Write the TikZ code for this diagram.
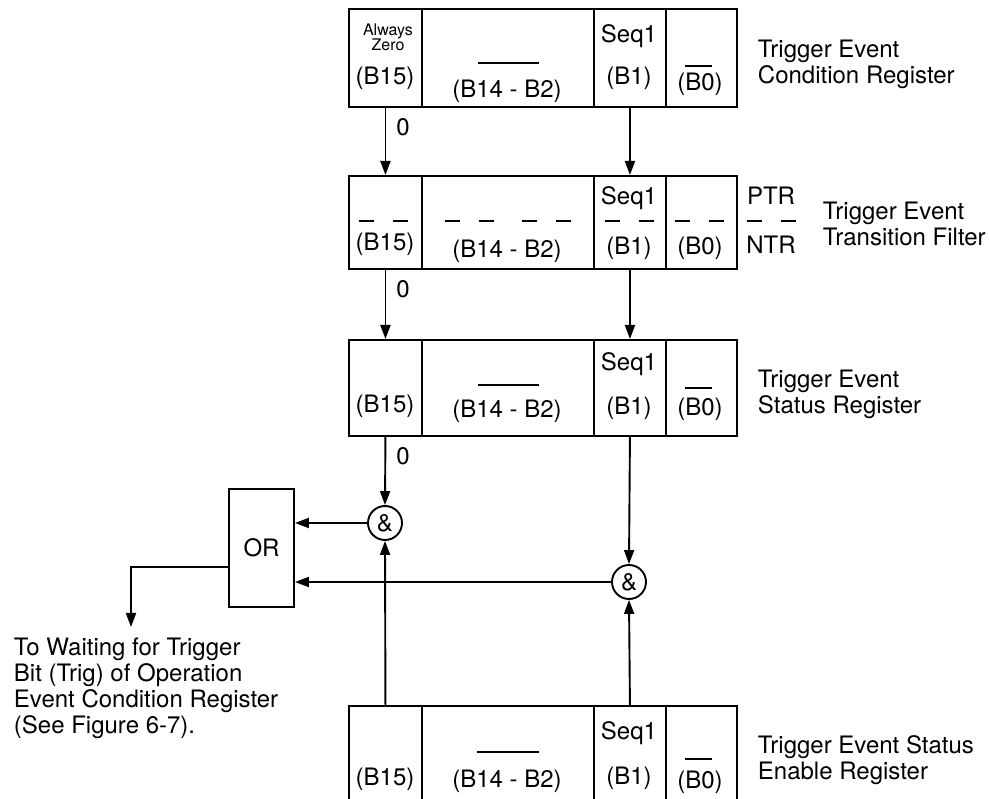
\documentclass[tikz,border=0pt]{standalone}
\usepackage{fontspec}
\setmainfont{TeX Gyre Heros}
\usetikzlibrary{arrows.meta}

\begin{document}
\begin{tikzpicture}[
    x=1pt, y=-1pt,
    line width=1.9pt,
    every node/.style={font=\fontsize{24}{26}\selectfont, inner sep=0pt},
    regcell/.style={draw, rectangle, anchor=north west, inner sep=0pt},
    bitlbl/.style={anchor=base},
    gate/.style={draw, circle, minimum size=34pt, inner sep=0pt},
    orbox/.style={draw, rectangle, minimum width=65pt, minimum height=118pt},
    arr/.style={-{Triangle[length=14pt,width=10pt]}},
    ticks/.style={dash pattern=on 15pt off 19pt},
    zerolbl/.style={pos=0, anchor=north west, xshift=10pt, yshift=-10pt},
    regname/.style={anchor=north west, align=left}
]
    \useasboundingbox (0,0) rectangle (989,799);

    % --- Condition register ---
    \begin{scope}[shift={(0,8)}]
        \node[regcell, minimum width=73pt, minimum height=98pt] (r1b15) at (348,0) {};
        \node[regcell, minimum width=172pt, minimum height=98pt] (r1mid) at (421,0) {};
        \node[regcell, minimum width=72pt, minimum height=98pt] (r1b1) at (593,0) {};
        \node[regcell, minimum width=71pt, minimum height=98pt] (r1b0) at (665,0) {};

        \node[bitlbl, font=\fontsize{16}{16}\selectfont] (r1alw) at (388,27.5) {Always};
        \node[bitlbl, font=\fontsize{16}{16}\selectfont] (r1zer) at (388,42.5) {Zero};
        \node[bitlbl] (r1l15) at (385,76.5) {(B15)};
        \draw (478,55) -- (539,55);
        \node[bitlbl] (r1lmid) at (507,89.5) {(B14 - B2)};
        \node[bitlbl] (r1seq) at (629,34.5) {Seq1};
        \node[bitlbl] (r1l1) at (629,76.5) {(B1)};
        \draw (685,58) -- (712,58);
        \node[bitlbl] (r1l0) at (700,83) {(B0)};

        \node[regname] (r1name) at (757,31) {Trigger Event\\Condition Register};
    \end{scope}

    % --- Transition filter ---
    \begin{scope}[shift={(0,175)}]
        \node[regcell, minimum width=73pt, minimum height=93pt] (r2b15) at (348,0) {};
        \node[regcell, minimum width=172pt, minimum height=93pt] (r2mid) at (421,0) {};
        \node[regcell, minimum width=72pt, minimum height=93pt] (r2b1) at (593,0) {};
        \node[regcell, minimum width=71pt, minimum height=93pt] (r2b0) at (665,0) {};

        \draw[ticks] (359,46) -- (408,46);
        \node[bitlbl] (r2l15) at (385,75.5) {(B15)};
        \draw[ticks] (445,46) -- (494,46);
        \draw[ticks] (522,46) -- (571,46);
        \node[bitlbl] (r2lmid) at (507,82.5) {(B14 - B2)};
        \node[bitlbl] (r2seq) at (629,29.5) {Seq1};
        \draw[ticks] (605,46) -- (654,46);
        \node[bitlbl] (r2l1) at (629,79.5) {(B1)};
        \draw[ticks] (675,46) -- (724,46);
        \node[bitlbl] (r2l0) at (700,79.5) {(B0)};

        \node[bitlbl] (ptr) at (771,29.5) {PTR};
        \draw[ticks] (747,46) -- (797,46);
        \node[bitlbl] (ntr) at (771,78.5) {NTR};

        \node[regname] (r2name) at (822,26) {Trigger Event\\Transition Filter};
    \end{scope}

    % --- Status register ---
    \begin{scope}[shift={(0,339)}]
        \node[regcell, minimum width=73pt, minimum height=96pt] (r3b15) at (348,0) {};
        \node[regcell, minimum width=172pt, minimum height=96pt] (r3mid) at (421,0) {};
        \node[regcell, minimum width=72pt, minimum height=96pt] (r3b1) at (593,0) {};
        \node[regcell, minimum width=71pt, minimum height=96pt] (r3b0) at (665,0) {};

        \node[bitlbl] (r3l15) at (385,73.5) {(B15)};
        \draw (478,46) -- (539,46);
        \node[bitlbl] (r3lmid) at (507,78.5) {(B14 - B2)};
        \node[bitlbl] (r3seq) at (629,31.5) {Seq1};
        \node[bitlbl] (r3l1) at (629,75.5) {(B1)};
        \draw (685,49) -- (712,49);
        \node[bitlbl] (r3l0) at (700,77) {(B0)};

        \node[regname] (r3name) at (757,30) {Trigger Event\\Status Register};
    \end{scope}

    % --- Enable register (runs off the bottom) ---
    \begin{scope}[shift={(0,705)}]
        \node[regcell, minimum width=73pt, minimum height=100pt] (r4b15) at (348,0) {};
        \node[regcell, minimum width=172pt, minimum height=100pt] (r4mid) at (421,0) {};
        \node[regcell, minimum width=72pt, minimum height=100pt] (r4b1) at (593,0) {};
        \node[regcell, minimum width=71pt, minimum height=100pt] (r4b0) at (665,0) {};

        \node[bitlbl] (r4l15) at (385,80.5) {(B15)};
        \draw (477,47) -- (539,47);
        \node[bitlbl] (r4lmid) at (507,82.5) {(B14 - B2)};
        \node[bitlbl] (r4seq) at (629,34.5) {Seq1};
        \node[bitlbl] (r4l1) at (629,79.5) {(B1)};
        \draw (685,54) -- (712,54);
        \node[bitlbl] (r4l0) at (700,83) {(B0)};

        \node[regname] (r4name) at (757,30) {Trigger Event Status\\Enable Register};
    \end{scope}

    % gates
    \node[gate] (and1) at (385,523) {\&};
    \node[gate] (and2) at (629,582) {\&};
    \node[orbox] (or) at (261.5,548) {OR};
    \coordinate (outend) at (131,627);

    % flow down
    \draw[arr] (r1b15.south) -- node[zerolbl] (z1) {0} (r2b15.north);
    \draw[arr] (r1b1.south) -- (r2b1.north);
    \draw[arr] (r2b15.south) -- node[zerolbl] (z2) {0} (r3b15.north);
    \draw[arr] (r2b1.south) -- (r3b1.north);
    \draw[arr] (r3b15.south) -- node[zerolbl] (z3) {0} (and1.north);
    \draw[arr] (r3b1.south) -- (and2.north);

    % enable bits up
    \draw[arr] (r4b15.north) -- (and1.south);
    \draw[arr] (r4b1.north) -- (and2.south);

    % into OR and out
    \draw[arr] (and1.west) -- (and1.west -| or.east);
    \draw[arr] (and2.west) -- (and2.west -| or.east);
    \draw[arr] ([yshift=-19pt]or.west) -| (outend);

    \node[regname] (dest) at (13,637) {To Waiting for Trigger\\Bit (Trig) of Operation\\Event Condition Register\\(See Figure 6-7).};

\end{tikzpicture}
\end{document}
